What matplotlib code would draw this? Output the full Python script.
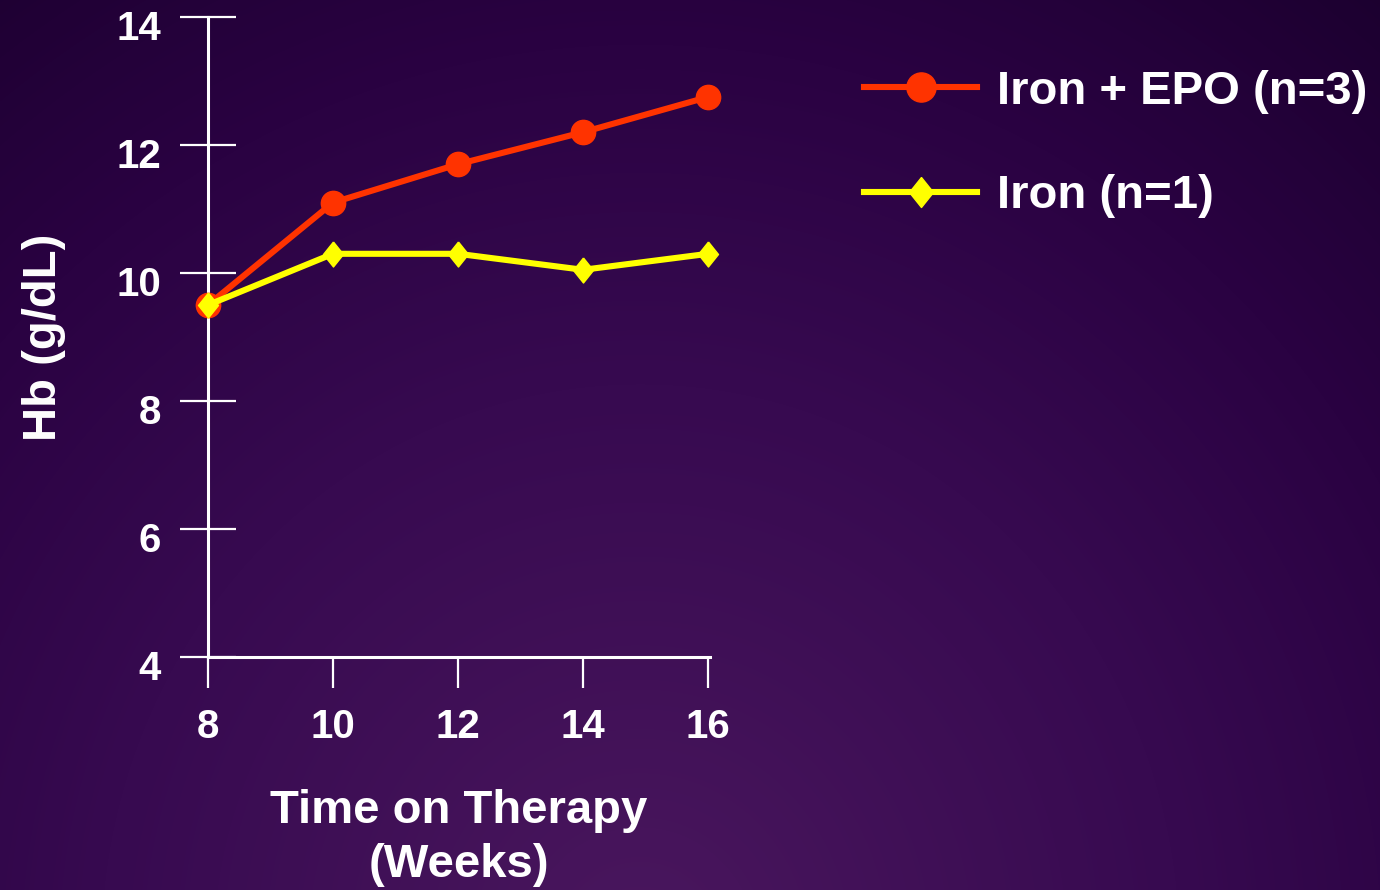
import numpy as np
import matplotlib
matplotlib.use("Agg")
import matplotlib.pyplot as plt
from matplotlib.colors import LinearSegmentedColormap
from matplotlib.transforms import ScaledTranslation

# Hemoglobin over time on therapy
weeks = [8, 10, 12, 14, 16]
hb_iron_epo = [9.5, 11.1, 11.7, 12.2, 12.75]
hb_iron = [9.5, 10.3, 10.3, 10.05, 10.3]
series_labels = ["Iron + EPO (n=3)", "Iron (n=1)"]
y_ticks = [4, 6, 8, 10, 12, 14]
x_label = "Time on Therapy\n(Weeks)"
y_label = "Hb (g/dL)"

FONT = "Liberation Sans"
W, H = 1380, 890
fig = plt.figure(figsize=(W / 100, H / 100), dpi=100)

# Purple slide backdrop: radial glow from the lower middle
bg = fig.add_axes([0, 0, 1, 1], zorder=-10)
yy, xx = np.mgrid[0:H, 0:W]
d = np.hypot((xx - 640) / 1.0, (yy - 950) / 1.05)
cmap = LinearSegmentedColormap.from_list(
    "slide",
    [(0.0, "#4a175e"), (0.45, "#370a50"), (0.72, "#2a0242"), (1.0, "#1b002e")],
)
bg.imshow(np.clip(d / 1200, 0, 1), cmap=cmap, vmin=0, vmax=1,
          extent=[0, W, H, 0], aspect="auto", interpolation="bilinear")
bg.set_axis_off()

# Slightly tall diamond marker
tall_diamond = [(0, 1), (0.8, 0), (0, -1), (-0.8, 0), (0, 1)]

# Plot area placed in pixel terms
left, right, top, bottom = 208, 710, 17, 657
ax = fig.add_axes([left / W, (H - bottom) / H, (right - left) / W, (bottom - top) / H])
ax.patch.set_alpha(0)

ax.plot(weeks, hb_iron_epo, color="#ff3300", lw=4.4, marker="o", ms=17.5,
        mec="#ff3300", mfc="#ff3300", label=series_labels[0], zorder=3,
        clip_on=False)
ax.plot(weeks, hb_iron, color="#ffff00", lw=4.4, marker=tall_diamond, ms=18,
        mec="#ffff00", mfc="#ffff00", label=series_labels[1], zorder=4,
        clip_on=False)

ax.set_xlim(8, 16.03)
ax.set_ylim(4, 14)
ax.set_xticks(weeks)
ax.set_yticks(y_ticks)

for s in ["top", "right"]:
    ax.spines[s].set_visible(False)
for s in ["left", "bottom"]:
    ax.spines[s].set_color("white")
    ax.spines[s].set_linewidth(2.2)

ax.tick_params(axis="y", direction="inout", length=40, width=1.6, colors="white",
               pad=14)
ax.tick_params(axis="x", direction="out", length=22, width=1.6, colors="white",
               pad=15)
for lab in ax.get_yticklabels():
    lab.set_fontfamily(FONT)
    lab.set_fontweight("bold")
    lab.set_fontsize(29)
    lab.set_transform(lab.get_transform() + ScaledTranslation(0, -8 / 100, fig.dpi_scale_trans))
for lab in ax.get_xticklabels():
    lab.set_fontfamily(FONT)
    lab.set_fontweight("bold")
    lab.set_fontsize(29)

ax.set_xlabel(x_label, fontfamily=FONT, fontweight="bold", fontsize=34,
              color="white", linespacing=1.28, labelpad=31)
ax.set_ylabel(y_label, fontfamily=FONT, fontweight="bold", fontsize=34,
              color="white", labelpad=36)

leg = ax.legend(loc="upper left", bbox_to_anchor=(864 / W, 1 - 70 / H),
                bbox_transform=fig.transFigure, frameon=False,
                prop={"family": FONT, "weight": "bold", "size": 34},
                labelcolor="white", handlelength=2.4, handletextpad=0.42,
                labelspacing=1.28, borderaxespad=0, borderpad=0,
                markerscale=1.2)

fig.savefig("out.png", dpi=100)
